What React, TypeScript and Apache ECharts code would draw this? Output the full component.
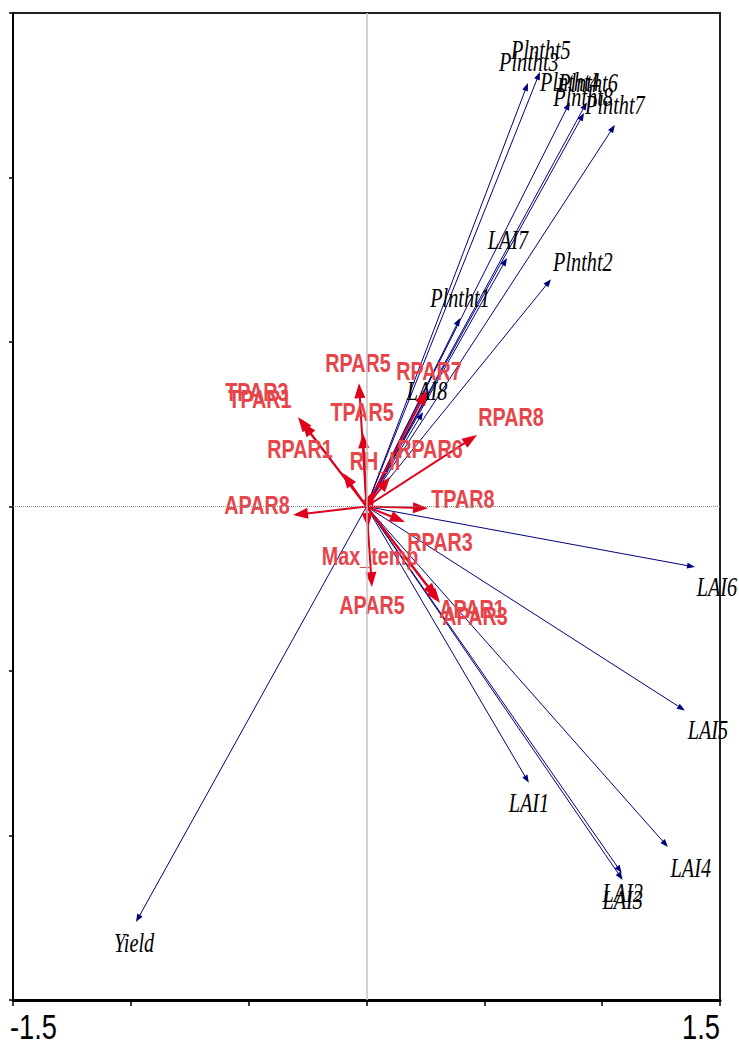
import React, { useEffect, useRef } from "react";
import * as echarts from "echarts";

// Species (blue arrows, italic labels)
const speciesNames = ["Plntht5", "Plntht3", "Plntht4", "Plntht6", "Plntht8", "Plntht7", "LAI7", "Plntht2", "Plntht1", "LAI8", "LAI6", "LAI5", "LAI1", "LAI4", "LAI2", "LAI3", "Yield"];
const speciesX = [0.736, 0.685, 0.863, 0.935, 0.923, 1.054, 0.596, 0.783, 0.397, 0.24, 1.394, 1.351, 0.689, 1.279, 1.083, 1.087, -0.978];
const speciesY = [1.321, 1.287, 1.229, 1.229, 1.196, 1.16, 0.755, 0.691, 0.573, 0.287, -0.184, -0.62, -0.84, -1.035, -1.114, -1.135, -1.263];
const speciesLabelX = [0.74, 0.689, 0.863, 0.94, 0.919, 1.054, 0.6, 0.918, 0.397, 0.257, 1.487, 1.449, 0.689, 1.376, 1.087, 1.087, -0.986];
const speciesLabelY = [1.388, 1.351, 1.29, 1.287, 1.245, 1.22, 0.81, 0.743, 0.634, 0.351, -0.245, -0.679, -0.901, -1.099, -1.175, -1.196, -1.327];

// Environmental variables (red arrows, bold labels)
const envNames = ["RPAR5", "TPAR5", "RH_II", "RPAR6", "RPAR7", "RPAR8", "RPAR1", "TPAR3", "TPAR1", "APAR8", "TPAR8", "RPAR3", "Max_temp", "APAR5", "APAR1", "APAR3"];
const envX = [-0.032, -0.015, 0.036, 0.1, 0.257, 0.469, -0.1, -0.291, -0.274, -0.312, 0.261, 0.163, 0.007, 0.023, 0.299, 0.312];
const envY = [0.375, 0.223, 0.05, 0.09, 0.354, 0.217, 0.102, 0.272, 0.257, -0.026, -0.005, -0.047, -0.065, -0.245, -0.278, -0.293];
const envLabelX = [-0.036, -0.019, 0.036, 0.269, 0.265, 0.613, -0.282, -0.465, -0.452, -0.465, 0.409, 0.312, 0.015, 0.023, 0.448, 0.46];
const envLabelY = [0.433, 0.284, 0.135, 0.172, 0.409, 0.269, 0.172, 0.345, 0.324, 0.002, 0.02, -0.111, -0.153, -0.302, -0.315, -0.336];

// Axis tick labels shown on the bottom axis
const axisTicks = [-1.5, 1.5];

function arrowSeries(
  xs: number[], ys: number[], lxs: number[], lys: number[], names: string[],
  opts: { color: string; width: number; headL: number; headW: number; textColor: string; font: string; scaleX: number; z: number }
) {
  return {
    type: "custom",
    coordinateSystem: "cartesian2d",
    z: opts.z,
    clip: false,
    silent: true,
    data: xs.map((x, i) => [x, ys[i], lxs[i], lys[i]]),
    encode: { x: 0, y: 1 },
    renderItem: (params: any, api: any) => {
      const x = api.value(0), y = api.value(1), lx = api.value(2), ly = api.value(3);
      const p0 = api.coord([0, 0]);
      const p1 = api.coord([x, y]);
      const pl = api.coord([lx, ly]);
      const dx = p1[0] - p0[0], dy = p1[1] - p0[1];
      const len = Math.sqrt(dx * dx + dy * dy) || 1;
      const ux = dx / len, uy = dy / len;
      const nx = -uy, ny = ux;
      const bx = p1[0] - ux * opts.headL, by = p1[1] - uy * opts.headL;
      return {
        type: "group",
        children: [
          {
            type: "line",
            shape: { x1: p0[0], y1: p0[1], x2: bx + ux * 1, y2: by + uy * 1 },
            style: { stroke: opts.color, lineWidth: opts.width },
          },
          {
            type: "polygon",
            shape: {
              points: [
                [p1[0], p1[1]],
                [bx + nx * opts.headW, by + ny * opts.headW],
                [bx - nx * opts.headW, by - ny * opts.headW],
              ],
            },
            style: { fill: opts.color },
          },
          {
            type: "text",
            x: pl[0],
            y: pl[1],
            scaleX: opts.scaleX,
            z2: 10,
            style: {
              text: names[params.dataIndex],
              font: opts.font,
              fill: opts.textColor,
              align: "center",
              verticalAlign: "middle",
            },
          },
        ],
      };
    },
  };
}

export default function App() {
  const ref = useRef<HTMLDivElement>(null);
  useEffect(() => {
    document.body.style.margin = "0";
    const chart = echarts.init(ref.current!, undefined, { renderer: "svg" });
    chart.setOption({
      animation: false,
      backgroundColor: "#ffffff",
      grid: { left: 13, right: 19, top: 13, bottom: 48, show: true, borderColor: "#222", borderWidth: 2, backgroundColor: "transparent" },
      xAxis: {
        type: "value",
        min: -1.5,
        max: 1.5,
        interval: 0.5,
        splitLine: { show: false },
        axisLine: { show: true, onZero: false, lineStyle: { color: "#000", width: 3 } },
        axisTick: { show: true, length: 6, lineStyle: { color: "#000", width: 1.5 } },
        axisLabel: { show: false },
      },
      yAxis: {
        type: "value",
        min: -1.5,
        max: 1.5,
        interval: 0.5,
        splitLine: { show: false },
        axisLine: { show: true, onZero: false, lineStyle: { color: "#000", width: 2 } },
        axisTick: { show: true, length: 4, lineStyle: { color: "#000", width: 1.5 } },
        axisLabel: { show: false },
      },
      series: [
        {
          type: "line",
          data: [],
          z: 1,
          markLine: {
            silent: true,
            symbol: "none",
            label: { show: false },
            animation: false,
            data: [
              { xAxis: 0, lineStyle: { color: "#c4c4c4", type: "solid", width: 1.5 } },
              { yAxis: 0, lineStyle: { color: "#8a8a8a", type: "dotted", width: 1 } },
            ],
          },
        },
        arrowSeries(speciesX, speciesY, speciesLabelX, speciesLabelY, speciesNames, {
          color: "#00007f",
          width: 1,
          headL: 8,
          headW: 3,
          textColor: "#000",
          font: "italic 27px 'Liberation Serif', 'Times New Roman', serif",
          scaleX: 0.75,
          z: 3,
        }),
        arrowSeries(envX, envY, envLabelX, envLabelY, envNames, {
          color: "#e0001b",
          width: 2,
          headL: 15,
          headW: 5.5,
          textColor: "#e6454a",
          font: "bold 25px 'Liberation Sans', Arial, sans-serif",
          scaleX: 0.79,
          z: 4,
        }),
        {
          type: "custom",
          coordinateSystem: "cartesian2d",
          clip: false,
          silent: true,
          z: 5,
          data: axisTicks.map((v) => [v, -1.5]),
          encode: { x: 0, y: 1 },
          renderItem: (params: any, api: any) => {
            const v = api.value(0);
            const p = api.coord([v, api.value(1)]);
            return {
              type: "text",
              x: v < 0 ? p[0] - 3 : p[0],
              y: p[1] + 27,
              scaleX: 0.78,
              style: {
                text: String(v),
                font: "35px 'Liberation Sans', Arial, sans-serif",
                fill: "#000",
                align: v < 0 ? "left" : "right",
                verticalAlign: "middle",
              },
            };
          },
        },
      ],
    });
    return () => chart.dispose();
  }, []);
  return <div ref={ref} style={{ width: 739, height: 1048 }} />;
}
